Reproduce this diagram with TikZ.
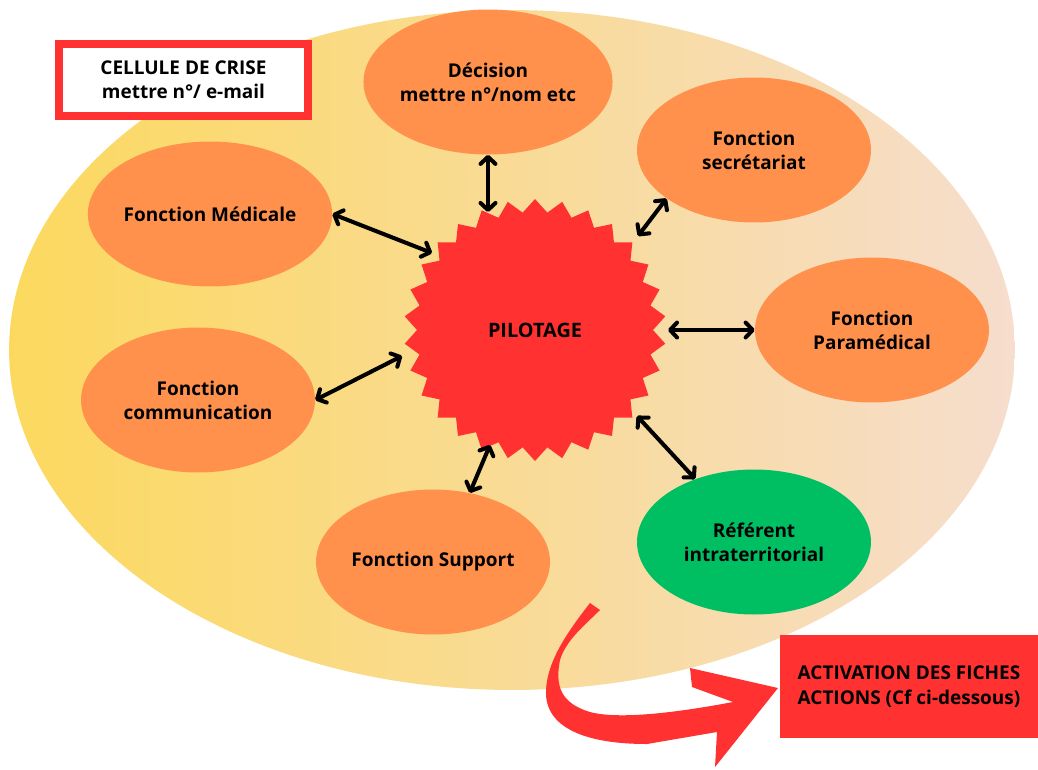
\documentclass[tikz,border=0pt]{standalone}
\usepackage{fontspec}
\setmainfont{Open Sans}
\usetikzlibrary{arrows.meta,shapes.geometric}
\definecolor{bgL}{RGB}{252,217,94}
\definecolor{bgM}{RGB}{249,221,150}
\definecolor{bgR}{RGB}{246,221,205}
\definecolor{orng}{RGB}{255,145,77}
\definecolor{redc}{RGB}{255,49,49}
\definecolor{grn}{RGB}{0,191,99}
\tikzset{
  lbl/.style={font=\bfseries\fontsize{10.8}{13.8}\selectfont, align=center},
  fnode/.style={ellipse, fill=orng, minimum width=4.68cm, minimum height=2.9cm, inner sep=0pt, lbl},
  dbl/.style={line width=2.3pt, {Straight Barb[length=4pt,width=8.5pt,round]}-{Straight Barb[length=4pt,width=8.5pt,round]}},
}
\begin{document}
\begin{tikzpicture}[x=0.02cm,y=-0.02cm]
\useasboundingbox (0,0) rectangle (1038,769);
\fill[white] (0,0) rectangle (1038,769);
% big background ellipse
\shade[left color=bgL, middle color=bgM, right color=bgR] (512,350) ellipse [x radius=10.06cm, y radius=6.8cm];
% star
\fill[redc] (535,199) \foreach \k in {1,...,59}{ -- ({535+(124.5+6.5*cos(180*\k))*cos(90+6*\k)}, {330-(124.5+6.5*cos(180*\k))*sin(90+6*\k)}) } -- cycle;
\node[lbl, font=\bfseries\fontsize{11.3}{13.8}\selectfont] (pil) at (535,330) {PILOTAGE};
% function nodes
\node[fnode] (dec) at (488,82) {Décision\\mettre n°/nom etc};
\node[fnode] (sec) at (754,150) {Fonction\\secrétariat};
\node[fnode] (med) at (210,214) {Fonction Médicale};
\node[fnode] (par) at (872,330) {Fonction\\Paramédical};
\node[fnode] (com) at (198,400) {Fonction\\communication};
\node[fnode] (sup) at (433,562) {Fonction Support};
\node[fnode, fill=grn] (ref) at (754,542) {Référent\\intraterritorial};
% star side coordinates
\coordinate (s1) at (488,212);
\coordinate (s2) at (432,253);
\coordinate (s3) at (638,236);
\coordinate (s4) at (668,330);
\coordinate (s5) at (402,356);
\coordinate (s6) at (490,445);
\coordinate (s7) at (637,416);
\draw[dbl] (dec.south) -- (s1);
\draw[dbl] (med.east) -- (s2);
\draw[dbl] (sec.209) -- (s3);
\draw[dbl] (par.west) -- (s4);
\draw[dbl] (com.east) -- (s5);
\draw[dbl] (sup.62) -- (s6);
\draw[dbl] (ref.133) -- (s7);
% boxes
\node[lbl, draw=redc, line width=4.5pt, fill=white, minimum width=4.98cm, minimum height=1.44cm, inner sep=0pt] (cel) at (183.5,80) {CELLULE DE CRISE\\mettre n°/ e-mail};
\node[lbl, fill=redc, minimum width=5.16cm, minimum height=2.06cm, inner sep=0pt] (act) at (909,686.5) {ACTIVATION DES FICHES\\ACTIONS (Cf ci-dessous)};
% curved red arrow
\fill[redc] (590,603) .. controls (565,635) and (545,665) .. (546,695) .. controls (548,730) and (590,744) .. (647,744) -- (717,732) -- (715,767) -- (778,688) -- (690,668) -- (692,687) -- (733,702) .. controls (680,712) and (620,720) .. (590,712) .. controls (560,703) and (555,685) .. (560,660) .. controls (566,640) and (585,625) .. (600,610) -- cycle;
\end{tikzpicture}
\end{document}
